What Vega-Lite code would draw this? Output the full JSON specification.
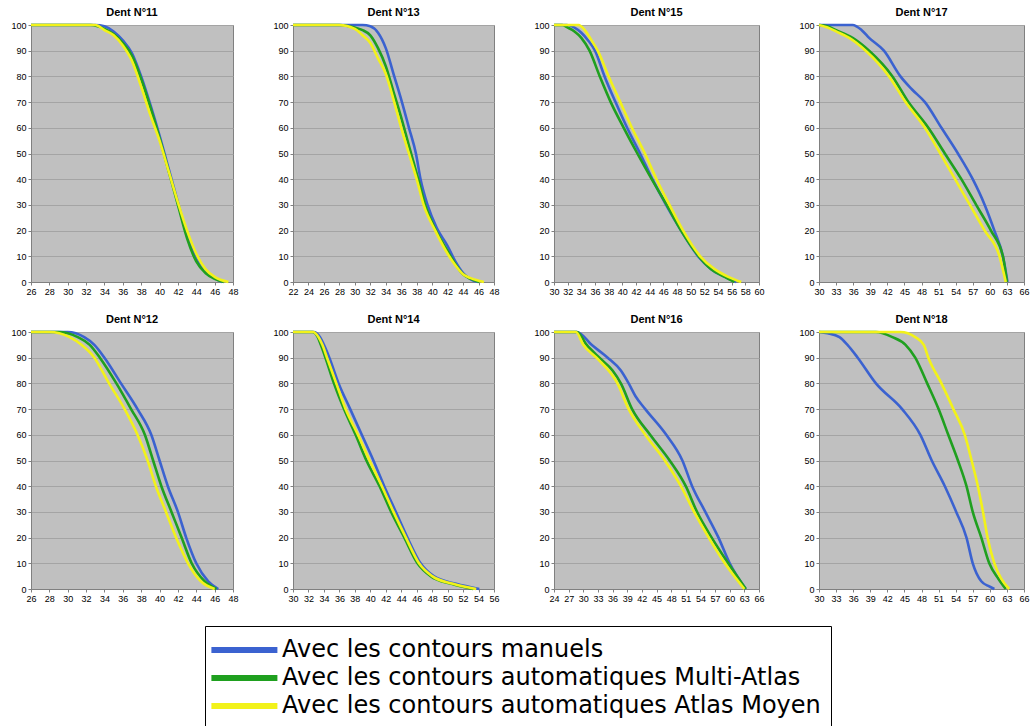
{
"$schema": "https://vega.github.io/schema/vega-lite/v6.json",
"background": "white",
"padding": {"left": 10, "top": 6, "right": 0, "bottom": 0},
"data": {"values": [
{"p":11,"s":"a","x":26,"y":100},{"p":11,"s":"a","x":33,"y":100},{"p":11,"s":"a","x":34,"y":99.5},{"p":11,"s":"a","x":35,"y":97.5},{"p":11,"s":"a","x":36,"y":94},{"p":11,"s":"a","x":37,"y":89},{"p":11,"s":"a","x":38,"y":80},{"p":11,"s":"a","x":39,"y":69},{"p":11,"s":"a","x":40,"y":57},{"p":11,"s":"a","x":41,"y":44},{"p":11,"s":"a","x":42,"y":31},{"p":11,"s":"a","x":43,"y":18},{"p":11,"s":"a","x":44,"y":9},{"p":11,"s":"a","x":45,"y":4},{"p":11,"s":"a","x":46,"y":1.5},{"p":11,"s":"a","x":46.8,"y":0},
{"p":11,"s":"b","x":26,"y":100},{"p":11,"s":"b","x":32.5,"y":100},{"p":11,"s":"b","x":34,"y":98.5},{"p":11,"s":"b","x":35,"y":96.5},{"p":11,"s":"b","x":36,"y":93},{"p":11,"s":"b","x":37,"y":88},{"p":11,"s":"b","x":38,"y":79},{"p":11,"s":"b","x":39,"y":68},{"p":11,"s":"b","x":40,"y":56},{"p":11,"s":"b","x":41,"y":43},{"p":11,"s":"b","x":42,"y":30},{"p":11,"s":"b","x":43,"y":17},{"p":11,"s":"b","x":44,"y":8},{"p":11,"s":"b","x":45,"y":3.5},{"p":11,"s":"b","x":46,"y":1.2},{"p":11,"s":"b","x":47,"y":0},
{"p":11,"s":"c","x":26,"y":100},{"p":11,"s":"c","x":33,"y":100},{"p":11,"s":"c","x":34,"y":98},{"p":11,"s":"c","x":35,"y":96},{"p":11,"s":"c","x":36,"y":92},{"p":11,"s":"c","x":37,"y":86},{"p":11,"s":"c","x":38,"y":76},{"p":11,"s":"c","x":39,"y":65},{"p":11,"s":"c","x":40,"y":55},{"p":11,"s":"c","x":41,"y":43},{"p":11,"s":"c","x":42,"y":31},{"p":11,"s":"c","x":43,"y":20},{"p":11,"s":"c","x":44,"y":11},{"p":11,"s":"c","x":45,"y":5},{"p":11,"s":"c","x":46,"y":2},{"p":11,"s":"c","x":47.5,"y":0},
{"p":13,"s":"a","x":22,"y":100},{"p":13,"s":"a","x":31,"y":100},{"p":13,"s":"a","x":32,"y":99.5},{"p":13,"s":"a","x":33,"y":97},{"p":13,"s":"a","x":34,"y":91},{"p":13,"s":"a","x":35,"y":81},{"p":13,"s":"a","x":36,"y":71},{"p":13,"s":"a","x":37,"y":60},{"p":13,"s":"a","x":37.9,"y":50},{"p":13,"s":"a","x":38.5,"y":40},{"p":13,"s":"a","x":39.4,"y":30},{"p":13,"s":"a","x":40.6,"y":21},{"p":13,"s":"a","x":42,"y":14},{"p":13,"s":"a","x":43,"y":8},{"p":13,"s":"a","x":44,"y":3.5},{"p":13,"s":"a","x":45,"y":1},{"p":13,"s":"a","x":45.9,"y":0},
{"p":13,"s":"b","x":22,"y":100},{"p":13,"s":"b","x":28,"y":100},{"p":13,"s":"b","x":30,"y":99},{"p":13,"s":"b","x":31,"y":98},{"p":13,"s":"b","x":32,"y":96},{"p":13,"s":"b","x":33,"y":91},{"p":13,"s":"b","x":34,"y":84},{"p":13,"s":"b","x":35,"y":74},{"p":13,"s":"b","x":36,"y":64},{"p":13,"s":"b","x":37,"y":53},{"p":13,"s":"b","x":38.2,"y":40},{"p":13,"s":"b","x":39.1,"y":30},{"p":13,"s":"b","x":40.5,"y":20},{"p":13,"s":"b","x":42,"y":12},{"p":13,"s":"b","x":43,"y":7},{"p":13,"s":"b","x":44,"y":3},{"p":13,"s":"b","x":45,"y":1.2},{"p":13,"s":"b","x":46.1,"y":0},
{"p":13,"s":"c","x":22,"y":100},{"p":13,"s":"c","x":28,"y":100},{"p":13,"s":"c","x":30,"y":98.5},{"p":13,"s":"c","x":31,"y":96},{"p":13,"s":"c","x":32,"y":93},{"p":13,"s":"c","x":33,"y":87},{"p":13,"s":"c","x":34,"y":81},{"p":13,"s":"c","x":35,"y":71},{"p":13,"s":"c","x":36,"y":60},{"p":13,"s":"c","x":37,"y":50},{"p":13,"s":"c","x":38,"y":40},{"p":13,"s":"c","x":38.9,"y":30},{"p":13,"s":"c","x":40.4,"y":20},{"p":13,"s":"c","x":42,"y":11},{"p":13,"s":"c","x":43,"y":6.5},{"p":13,"s":"c","x":44,"y":3},{"p":13,"s":"c","x":45,"y":1.5},{"p":13,"s":"c","x":46.7,"y":0},
{"p":15,"s":"a","x":30,"y":100},{"p":15,"s":"a","x":31.9,"y":100},{"p":15,"s":"a","x":33,"y":99},{"p":15,"s":"a","x":34,"y":97},{"p":15,"s":"a","x":35,"y":94},{"p":15,"s":"a","x":36,"y":90},{"p":15,"s":"a","x":37.4,"y":80},{"p":15,"s":"a","x":39,"y":70},{"p":15,"s":"a","x":40.7,"y":60},{"p":15,"s":"a","x":42.6,"y":50},{"p":15,"s":"a","x":44.4,"y":40},{"p":15,"s":"a","x":46.4,"y":30},{"p":15,"s":"a","x":48.6,"y":20},{"p":15,"s":"a","x":51.1,"y":10},{"p":15,"s":"a","x":53,"y":5},{"p":15,"s":"a","x":55,"y":2},{"p":15,"s":"a","x":56.7,"y":0},
{"p":15,"s":"b","x":30,"y":100},{"p":15,"s":"b","x":31.2,"y":100},{"p":15,"s":"b","x":32,"y":99},{"p":15,"s":"b","x":33,"y":97.5},{"p":15,"s":"b","x":34,"y":95},{"p":15,"s":"b","x":35.2,"y":90},{"p":15,"s":"b","x":36.7,"y":80},{"p":15,"s":"b","x":38.3,"y":70},{"p":15,"s":"b","x":40.2,"y":60},{"p":15,"s":"b","x":42.2,"y":50},{"p":15,"s":"b","x":44.3,"y":40},{"p":15,"s":"b","x":46.5,"y":30},{"p":15,"s":"b","x":48.6,"y":20},{"p":15,"s":"b","x":51.2,"y":10},{"p":15,"s":"b","x":53,"y":5},{"p":15,"s":"b","x":55,"y":2},{"p":15,"s":"b","x":56.4,"y":0},
{"p":15,"s":"c","x":30,"y":100},{"p":15,"s":"c","x":33.6,"y":100},{"p":15,"s":"c","x":34.5,"y":98},{"p":15,"s":"c","x":35.5,"y":94},{"p":15,"s":"c","x":36.4,"y":90},{"p":15,"s":"c","x":38,"y":80},{"p":15,"s":"c","x":39.7,"y":70},{"p":15,"s":"c","x":41.4,"y":60},{"p":15,"s":"c","x":43.3,"y":50},{"p":15,"s":"c","x":45,"y":40},{"p":15,"s":"c","x":46.9,"y":30},{"p":15,"s":"c","x":48.9,"y":20},{"p":15,"s":"c","x":51.4,"y":10},{"p":15,"s":"c","x":53.5,"y":5},{"p":15,"s":"c","x":55.5,"y":2},{"p":15,"s":"c","x":57.4,"y":0},
{"p":17,"s":"a","x":30,"y":100},{"p":17,"s":"a","x":35.9,"y":100},{"p":17,"s":"a","x":37.5,"y":98},{"p":17,"s":"a","x":38.8,"y":95},{"p":17,"s":"a","x":41.4,"y":90},{"p":17,"s":"a","x":44.3,"y":80},{"p":17,"s":"a","x":46.3,"y":75},{"p":17,"s":"a","x":48.6,"y":70},{"p":17,"s":"a","x":51.5,"y":60},{"p":17,"s":"a","x":54.4,"y":50},{"p":17,"s":"a","x":57,"y":40},{"p":17,"s":"a","x":59.1,"y":30},{"p":17,"s":"a","x":60.8,"y":20},{"p":17,"s":"a","x":62.3,"y":10},{"p":17,"s":"a","x":63.1,"y":0},
{"p":17,"s":"b","x":30,"y":100},{"p":17,"s":"b","x":31.5,"y":99.5},{"p":17,"s":"b","x":33,"y":98},{"p":17,"s":"b","x":35.9,"y":95},{"p":17,"s":"b","x":38.8,"y":90},{"p":17,"s":"b","x":42.9,"y":80},{"p":17,"s":"b","x":45.7,"y":70},{"p":17,"s":"b","x":49.2,"y":60},{"p":17,"s":"b","x":52.1,"y":50},{"p":17,"s":"b","x":55,"y":40},{"p":17,"s":"b","x":57.6,"y":30},{"p":17,"s":"b","x":60.2,"y":20},{"p":17,"s":"b","x":62.3,"y":10},{"p":17,"s":"b","x":63,"y":0},
{"p":17,"s":"c","x":30,"y":100},{"p":17,"s":"c","x":31.5,"y":99},{"p":17,"s":"c","x":33,"y":97.5},{"p":17,"s":"c","x":35.3,"y":95},{"p":17,"s":"c","x":38.2,"y":90},{"p":17,"s":"c","x":42.3,"y":80},{"p":17,"s":"c","x":45.2,"y":70},{"p":17,"s":"c","x":48.6,"y":60},{"p":17,"s":"c","x":51.3,"y":50},{"p":17,"s":"c","x":53.9,"y":40},{"p":17,"s":"c","x":56.5,"y":30},{"p":17,"s":"c","x":59.1,"y":20},{"p":17,"s":"c","x":61.7,"y":10},{"p":17,"s":"c","x":62.8,"y":0},
{"p":12,"s":"a","x":26,"y":100},{"p":12,"s":"a","x":30,"y":100},{"p":12,"s":"a","x":31.8,"y":98},{"p":12,"s":"a","x":32.9,"y":95},{"p":12,"s":"a","x":34,"y":90},{"p":12,"s":"a","x":35.8,"y":80},{"p":12,"s":"a","x":37.6,"y":70},{"p":12,"s":"a","x":39.1,"y":60},{"p":12,"s":"a","x":40,"y":50},{"p":12,"s":"a","x":40.9,"y":40},{"p":12,"s":"a","x":42,"y":30},{"p":12,"s":"a","x":42.9,"y":20},{"p":12,"s":"a","x":44,"y":10},{"p":12,"s":"a","x":45.3,"y":3},{"p":12,"s":"a","x":46.4,"y":0},
{"p":12,"s":"b","x":26,"y":100},{"p":12,"s":"b","x":29,"y":100},{"p":12,"s":"b","x":31.1,"y":98},{"p":12,"s":"b","x":32.4,"y":95},{"p":12,"s":"b","x":33.5,"y":90},{"p":12,"s":"b","x":35.3,"y":80},{"p":12,"s":"b","x":36.9,"y":70},{"p":12,"s":"b","x":38.4,"y":60},{"p":12,"s":"b","x":39.3,"y":50},{"p":12,"s":"b","x":40.2,"y":40},{"p":12,"s":"b","x":41.3,"y":30},{"p":12,"s":"b","x":42.4,"y":20},{"p":12,"s":"b","x":43.5,"y":10},{"p":12,"s":"b","x":44.9,"y":3},{"p":12,"s":"b","x":46.2,"y":0},
{"p":12,"s":"c","x":26,"y":100},{"p":12,"s":"c","x":28,"y":100},{"p":12,"s":"c","x":30.2,"y":98},{"p":12,"s":"c","x":31.5,"y":95},{"p":12,"s":"c","x":32.9,"y":90},{"p":12,"s":"c","x":34.5,"y":80},{"p":12,"s":"c","x":36.2,"y":70},{"p":12,"s":"c","x":37.6,"y":60},{"p":12,"s":"c","x":38.7,"y":50},{"p":12,"s":"c","x":39.6,"y":40},{"p":12,"s":"c","x":40.7,"y":30},{"p":12,"s":"c","x":41.8,"y":20},{"p":12,"s":"c","x":43.1,"y":10},{"p":12,"s":"c","x":44.5,"y":3},{"p":12,"s":"c","x":46,"y":0},
{"p":14,"s":"a","x":30,"y":100},{"p":14,"s":"a","x":32.7,"y":100},{"p":14,"s":"a","x":33.5,"y":98},{"p":14,"s":"a","x":34,"y":95},{"p":14,"s":"a","x":34.7,"y":90},{"p":14,"s":"a","x":35.9,"y":80},{"p":14,"s":"a","x":37.4,"y":70},{"p":14,"s":"a","x":38.9,"y":60},{"p":14,"s":"a","x":40.4,"y":50},{"p":14,"s":"a","x":41.8,"y":40},{"p":14,"s":"a","x":43.3,"y":30},{"p":14,"s":"a","x":44.8,"y":20},{"p":14,"s":"a","x":46.5,"y":10},{"p":14,"s":"a","x":48.2,"y":5},{"p":14,"s":"a","x":51.1,"y":2},{"p":14,"s":"a","x":54.1,"y":0},
{"p":14,"s":"b","x":30,"y":100},{"p":14,"s":"b","x":32.5,"y":100},{"p":14,"s":"b","x":33.2,"y":98},{"p":14,"s":"b","x":33.6,"y":95},{"p":14,"s":"b","x":34.2,"y":90},{"p":14,"s":"b","x":35.3,"y":80},{"p":14,"s":"b","x":36.6,"y":70},{"p":14,"s":"b","x":38.1,"y":60},{"p":14,"s":"b","x":39.5,"y":50},{"p":14,"s":"b","x":41.2,"y":40},{"p":14,"s":"b","x":42.7,"y":30},{"p":14,"s":"b","x":44.4,"y":20},{"p":14,"s":"b","x":46.1,"y":10},{"p":14,"s":"b","x":47.8,"y":5},{"p":14,"s":"b","x":50.5,"y":2},{"p":14,"s":"b","x":53.3,"y":0},
{"p":14,"s":"c","x":30,"y":100},{"p":14,"s":"c","x":32.6,"y":100},{"p":14,"s":"c","x":33.3,"y":98},{"p":14,"s":"c","x":33.8,"y":95},{"p":14,"s":"c","x":34.4,"y":90},{"p":14,"s":"c","x":35.6,"y":80},{"p":14,"s":"c","x":36.8,"y":70},{"p":14,"s":"c","x":38.4,"y":60},{"p":14,"s":"c","x":39.9,"y":50},{"p":14,"s":"c","x":41.5,"y":40},{"p":14,"s":"c","x":43,"y":30},{"p":14,"s":"c","x":44.6,"y":20},{"p":14,"s":"c","x":46.3,"y":10},{"p":14,"s":"c","x":48,"y":5},{"p":14,"s":"c","x":50.7,"y":2},{"p":14,"s":"c","x":53.7,"y":0},
{"p":16,"s":"a","x":24,"y":100},{"p":16,"s":"a","x":28.7,"y":100},{"p":16,"s":"a","x":31.7,"y":95},{"p":16,"s":"a","x":35,"y":90},{"p":16,"s":"a","x":37.7,"y":85},{"p":16,"s":"a","x":39.3,"y":80},{"p":16,"s":"a","x":40.7,"y":75},{"p":16,"s":"a","x":42.7,"y":70},{"p":16,"s":"a","x":47,"y":60},{"p":16,"s":"a","x":50.3,"y":50},{"p":16,"s":"a","x":52.3,"y":40},{"p":16,"s":"a","x":55,"y":30},{"p":16,"s":"a","x":57.7,"y":20},{"p":16,"s":"a","x":60,"y":10},{"p":16,"s":"a","x":63.3,"y":0},
{"p":16,"s":"b","x":24,"y":100},{"p":16,"s":"b","x":28.7,"y":100},{"p":16,"s":"b","x":30.7,"y":95},{"p":16,"s":"b","x":33.3,"y":90},{"p":16,"s":"b","x":36,"y":85},{"p":16,"s":"b","x":37.7,"y":80},{"p":16,"s":"b","x":40,"y":70},{"p":16,"s":"b","x":43.7,"y":60},{"p":16,"s":"b","x":47.7,"y":50},{"p":16,"s":"b","x":51,"y":40},{"p":16,"s":"b","x":53.3,"y":30},{"p":16,"s":"b","x":56.3,"y":20},{"p":16,"s":"b","x":59.7,"y":10},{"p":16,"s":"b","x":63.3,"y":0},
{"p":16,"s":"c","x":24,"y":100},{"p":16,"s":"c","x":28.5,"y":100},{"p":16,"s":"c","x":30,"y":95},{"p":16,"s":"c","x":32.7,"y":90},{"p":16,"s":"c","x":37,"y":80},{"p":16,"s":"c","x":39.3,"y":70},{"p":16,"s":"c","x":42.7,"y":60},{"p":16,"s":"c","x":46.7,"y":50},{"p":16,"s":"c","x":50,"y":40},{"p":16,"s":"c","x":52.7,"y":30},{"p":16,"s":"c","x":55.7,"y":20},{"p":16,"s":"c","x":59,"y":10},{"p":16,"s":"c","x":63,"y":0},
{"p":18,"s":"a","x":30,"y":100},{"p":18,"s":"a","x":31.5,"y":99.5},{"p":18,"s":"a","x":33.6,"y":98},{"p":18,"s":"a","x":35,"y":95},{"p":18,"s":"a","x":36.8,"y":90},{"p":18,"s":"a","x":40,"y":80},{"p":18,"s":"a","x":44.6,"y":70},{"p":18,"s":"a","x":47.8,"y":60},{"p":18,"s":"a","x":49.8,"y":50},{"p":18,"s":"a","x":52.1,"y":40},{"p":18,"s":"a","x":54.1,"y":30},{"p":18,"s":"a","x":55.9,"y":20},{"p":18,"s":"a","x":57,"y":10},{"p":18,"s":"a","x":58.5,"y":3},{"p":18,"s":"a","x":59.9,"y":1},{"p":18,"s":"a","x":60.8,"y":0},
{"p":18,"s":"b","x":30,"y":100},{"p":18,"s":"b","x":40,"y":100},{"p":18,"s":"b","x":42.9,"y":98},{"p":18,"s":"b","x":45.2,"y":95},{"p":18,"s":"b","x":46.9,"y":90},{"p":18,"s":"b","x":49,"y":80},{"p":18,"s":"b","x":51,"y":70},{"p":18,"s":"b","x":52.7,"y":60},{"p":18,"s":"b","x":54.4,"y":50},{"p":18,"s":"b","x":55.9,"y":40},{"p":18,"s":"b","x":57,"y":30},{"p":18,"s":"b","x":58.5,"y":20},{"p":18,"s":"b","x":59.9,"y":10},{"p":18,"s":"b","x":61.5,"y":4},{"p":18,"s":"b","x":62.8,"y":0},
{"p":18,"s":"c","x":30,"y":100},{"p":18,"s":"c","x":44.3,"y":100},{"p":18,"s":"c","x":46.9,"y":98},{"p":18,"s":"c","x":48.4,"y":95},{"p":18,"s":"c","x":49.2,"y":90},{"p":18,"s":"c","x":51.5,"y":80},{"p":18,"s":"c","x":53.6,"y":70},{"p":18,"s":"c","x":55.6,"y":60},{"p":18,"s":"c","x":56.8,"y":50},{"p":18,"s":"c","x":57.9,"y":40},{"p":18,"s":"c","x":58.8,"y":30},{"p":18,"s":"c","x":59.6,"y":20},{"p":18,"s":"c","x":60.8,"y":10},{"p":18,"s":"c","x":62,"y":4},{"p":18,"s":"c","x":63.4,"y":0}
]},
"columns": 4,
"spacing": {"column": 33, "row": 16},
"concat": [
{"width":202,"height":257,"title":"Dent N°11","transform":[{"filter":"datum.p==11"}],"mark":{"type":"line","strokeWidth":2.6,"interpolate":"monotone"},
 "encoding":{"x":{"field":"x","type":"quantitative","scale":{"domain":[26,48],"nice":false,"zero":false},"axis":{"values":[26,28,30,32,34,36,38,40,42,44,46,48]}},
 "y":{"field":"y","type":"quantitative","scale":{"domain":[0,100]},"axis":{"values":[0,10,20,30,40,50,60,70,80,90,100]}},
 "color":{"field":"s","type":"nominal","scale":{"domain":["a","b","c"],"range":["#3b62d0","#1fa01f","#f2f21a"]},
  "legend":{"orient":"none","legendX":174,"legendY":601,"direction":"vertical","title":null,"symbolType":"M-1.6,0H4.4","symbolStrokeWidth":6,"symbolSize":484,"labelFontSize":24,"labelFont":"DejaVu Sans","labelColor":"#000","labelOffset":39,"rowPadding":2,"padding":10,"strokeColor":"#000","fillColor":"#fff","labelLimit":800,
   "labelExpr":"datum.label=='a'?'Avec les contours manuels':datum.label=='b'?'Avec les contours automatiques Multi-Atlas':'Avec les contours automatiques Atlas Moyen'"}}}},
{"width":201,"height":257,"title":"Dent N°13","transform":[{"filter":"datum.p==13"}],"mark":{"type":"line","strokeWidth":2.6,"interpolate":"monotone"},
 "encoding":{"x":{"field":"x","type":"quantitative","scale":{"domain":[22,48],"nice":false,"zero":false},"axis":{"values":[22,24,26,28,30,32,34,36,38,40,42,44,46,48]}},
 "y":{"field":"y","type":"quantitative","scale":{"domain":[0,100]},"axis":{"values":[0,10,20,30,40,50,60,70,80,90,100]}},
 "color":{"field":"s","type":"nominal"}}},
{"width":205,"height":257,"title":"Dent N°15","transform":[{"filter":"datum.p==15"}],"mark":{"type":"line","strokeWidth":2.6,"interpolate":"monotone"},
 "encoding":{"x":{"field":"x","type":"quantitative","scale":{"domain":[30,60],"nice":false,"zero":false},"axis":{"values":[30,32,34,36,38,40,42,44,46,48,50,52,54,56,58,60]}},
 "y":{"field":"y","type":"quantitative","scale":{"domain":[0,100]},"axis":{"values":[0,10,20,30,40,50,60,70,80,90,100]}},
 "color":{"field":"s","type":"nominal"}}},
{"width":205,"height":257,"title":"Dent N°17","transform":[{"filter":"datum.p==17"}],"mark":{"type":"line","strokeWidth":2.6,"interpolate":"monotone"},
 "encoding":{"x":{"field":"x","type":"quantitative","scale":{"domain":[30,66],"nice":false,"zero":false},"axis":{"values":[30,33,36,39,42,45,48,51,54,57,60,63,66]}},
 "y":{"field":"y","type":"quantitative","scale":{"domain":[0,100]},"axis":{"values":[0,10,20,30,40,50,60,70,80,90,100]}},
 "color":{"field":"s","type":"nominal"}}},
{"width":202,"height":257,"title":"Dent N°12","transform":[{"filter":"datum.p==12"}],"mark":{"type":"line","strokeWidth":2.6,"interpolate":"monotone"},
 "encoding":{"x":{"field":"x","type":"quantitative","scale":{"domain":[26,48],"nice":false,"zero":false},"axis":{"values":[26,28,30,32,34,36,38,40,42,44,46,48]}},
 "y":{"field":"y","type":"quantitative","scale":{"domain":[0,100]},"axis":{"values":[0,10,20,30,40,50,60,70,80,90,100]}},
 "color":{"field":"s","type":"nominal"}}},
{"width":201,"height":257,"title":"Dent N°14","transform":[{"filter":"datum.p==14"}],"mark":{"type":"line","strokeWidth":2.6,"interpolate":"monotone"},
 "encoding":{"x":{"field":"x","type":"quantitative","scale":{"domain":[30,56],"nice":false,"zero":false},"axis":{"values":[30,32,34,36,38,40,42,44,46,48,50,52,54,56]}},
 "y":{"field":"y","type":"quantitative","scale":{"domain":[0,100]},"axis":{"values":[0,10,20,30,40,50,60,70,80,90,100]}},
 "color":{"field":"s","type":"nominal"}}},
{"width":205,"height":257,"title":"Dent N°16","transform":[{"filter":"datum.p==16"}],"mark":{"type":"line","strokeWidth":2.6,"interpolate":"monotone"},
 "encoding":{"x":{"field":"x","type":"quantitative","scale":{"domain":[24,66],"nice":false,"zero":false},"axis":{"values":[24,27,30,33,36,39,42,45,48,51,54,57,60,63,66]}},
 "y":{"field":"y","type":"quantitative","scale":{"domain":[0,100]},"axis":{"values":[0,10,20,30,40,50,60,70,80,90,100]}},
 "color":{"field":"s","type":"nominal"}}},
{"width":205,"height":257,"title":"Dent N°18","transform":[{"filter":"datum.p==18"}],"mark":{"type":"line","strokeWidth":2.6,"interpolate":"monotone"},
 "encoding":{"x":{"field":"x","type":"quantitative","scale":{"domain":[30,66],"nice":false,"zero":false},"axis":{"values":[30,33,36,39,42,45,48,51,54,57,60,63,66]}},
 "y":{"field":"y","type":"quantitative","scale":{"domain":[0,100]},"axis":{"values":[0,10,20,30,40,50,60,70,80,90,100]}},
 "color":{"field":"s","type":"nominal"}}}
],
"config": {
 "view": {"fill": "#c0c0c0", "stroke": "#808080", "strokeWidth": 1},
 "axis": {"title": null, "labelFont": "Liberation Sans", "labelFontSize": 9, "labelColor": "#000", "domainColor": "#808080", "tickColor": "#808080", "tickSize": 3, "labelPadding": 2, "labelOverlap": false, "labelFlush": false},
 "axisX": {"grid": false},
 "axisY": {"grid": true, "gridColor": "#a4a4a4", "domain": true},
 "title": {"font": "Liberation Sans", "fontSize": 11, "fontWeight": "bold", "color": "#000", "offset": 2}
}
}
